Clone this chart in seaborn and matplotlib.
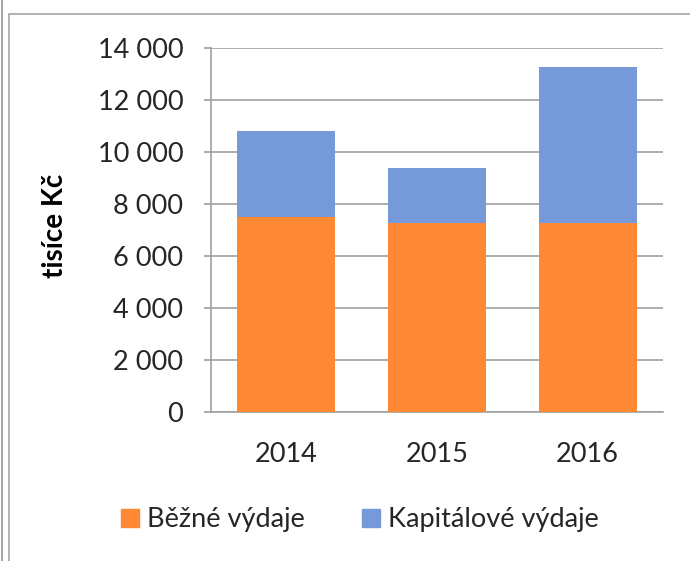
import pandas as pd
import matplotlib.pyplot as plt
import seaborn as sns
from matplotlib.patches import Rectangle, Patch

# Data
roky = ['2014', '2015', '2016']
bezne = [7500, 7270, 7270]
kapitalove = [3300, 2110, 6010]

df = pd.DataFrame({'rok': roky, 'bezne': bezne, 'kapitalove': kapitalove})
df['celkem'] = df['bezne'] + df['kapitalove']

barva_bezne = '#ff8834'
barva_kap = '#7699d9'

sns.set_style('white')
plt.rcParams['font.family'] = ['Lato', 'DejaVu Sans']

fig = plt.figure(figsize=(6.9, 5.61), dpi=100)
ax = fig.add_axes([211 / 690, 1 - 412 / 561, (663 - 211) / 690, (412 - 48) / 561])

# Skládané sloupce: nejdřív celkem (modrá), přes to běžné výdaje (oranžová)
sns.barplot(x='rok', y='celkem', data=df, color=barva_kap, width=0.65,
            saturation=1, linewidth=0, ax=ax, zorder=3)
sns.barplot(x='rok', y='bezne', data=df, color=barva_bezne, width=0.65,
            saturation=1, linewidth=0, ax=ax, zorder=3)

ax.set_ylim(0, 14000)
ax.set_xlim(-0.5, 2.5)
ax.set_yticks(range(0, 14001, 2000))
ax.set_yticklabels(['0' if v == 0 else f'{v:,}'.replace(',', ' ') for v in range(0, 14001, 2000)])
ax.grid(axis='y', color='#a0a0a0', linewidth=1.2, zorder=0)
ax.set_axisbelow(True)

for s in ['top', 'right']:
    ax.spines[s].set_visible(False)
ax.spines['left'].set_color('#a0a0a0')
ax.spines['bottom'].set_color('#a0a0a0')
ax.spines['left'].set_linewidth(1.2)
ax.spines['bottom'].set_linewidth(1.2)

ax.tick_params(axis='y', left=True, length=5, color='#a0a0a0', width=1.2,
               labelsize=19.5, labelcolor='#262626', pad=15)
ax.tick_params(axis='x', bottom=False, labelsize=19.5, labelcolor='#262626', pad=18)
ax.set_xlabel('')
ax.set_ylabel('tisíce Kč', fontsize=20, fontweight='bold', color='black')
ax.yaxis.set_label_coords(-0.316, 0.511)

# Legenda
handles = [Patch(color=barva_bezne, label='Běžné výdaje'),
           Patch(color=barva_kap, label='Kapitálové výdaje')]
fig.legend(handles=handles, loc='center', bbox_to_anchor=(360 / 690, 1 - 520 / 561),
           ncol=2, frameon=False, fontsize=19.5, handlelength=0.68, handleheight=0.68,
           handletextpad=0.3, columnspacing=2.1, labelcolor='#262626')

# Rámeček grafu
fig.patches.append(Rectangle((9 / 690, -0.01), 1, 1 - 14 / 561 + 0.01, transform=fig.transFigure,
                             fill=False, edgecolor='#a6a6a6', linewidth=1.2))
fig.patches.append(Rectangle((2 / 690, -0.01), 0.0, 1.1, transform=fig.transFigure,
                             fill=False, edgecolor='#a6a6a6', linewidth=1.2))

plt.savefig('out.png', dpi=100)
